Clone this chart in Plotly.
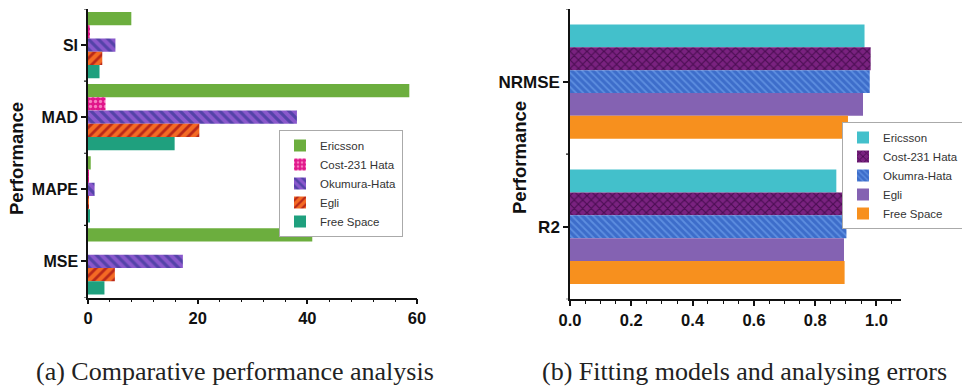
import plotly.graph_objects as go

# ---------------- data (a) ----------------
cats_a = ["MSE", "MAPE", "MAD", "SI"]
models_a = ["Ericsson", "Cost-231 Hata", "Okumura-Hata", "Egli", "Free Space"]
ericsson_a = [40.9, 0.5, 58.6, 7.9]
cost231_a = [0.0, 0.05, 3.2, 0.3]
okumura_a = [17.3, 1.2, 38.1, 5.0]
egli_a = [4.9, 0.1, 20.3, 2.6]
freespace_a = [3.0, 0.2, 15.8, 2.1]
ticks_a = [0, 20, 40, 60]

# ---------------- data (b) ----------------
cats_b = ["R2", "NRMSE"]
models_b = ["Ericsson", "Cost-231 Hata", "Okumra-Hata", "Egli", "Free Space"]
ericsson_b = [0.869, 0.961]
cost231_b = [0.909, 0.981]
okumura_b = [0.902, 0.978]
egli_b = [0.894, 0.956]
freespace_b = [0.896, 0.907]
ticks_b = [0.0, 0.2, 0.4, 0.6, 0.8, 1.0]

y_title = "Performance"
captions = ["(a) Comparative performance analysis", "(b) Fitting models and analysing errors"]

# ---------------- styles ----------------
styles_a = [
    dict(color="#6cae3e"),
    dict(color="#e0168a", pattern=dict(shape=".", bgcolor="#e0168a", fgcolor="#f77cc0", size=5, solidity=0.35, fillmode="replace")),
    dict(color="#8553c6", pattern=dict(shape="\\", bgcolor="#8a58cc", fgcolor="#5443a8", size=7, solidity=0.45, fillmode="replace")),
    dict(color="#f26522", pattern=dict(shape="/", bgcolor="#f46a24", fgcolor="#b8281a", size=7, solidity=0.4, fillmode="replace")),
    dict(color="#1fa07e"),
]
styles_b = [
    dict(color="#43c0cb"),
    dict(color="#6a1c6e", pattern=dict(shape="x", bgcolor="#7a2280", fgcolor="#4a0d52", size=6, solidity=0.35, fillmode="replace")),
    dict(color="#3e70cc", pattern=dict(shape="\\", bgcolor="#3d6dca", fgcolor="#5d8ee0", size=5, solidity=0.35, fillmode="replace")),
    dict(color="#8462b2"),
    dict(color="#f7901e"),
]

W, H = 962, 389
SANS = "Liberation Sans, Arial"
XTICK = dict(family=SANS, size=16.5, color="#111", weight="bold")
YTICK_A = dict(family=SANS, size=16, color="#111", weight="bold")
YTICK_B = dict(family=SANS, size=17, color="#111", weight="bold")
TITLEFONT = dict(family=SANS, size=18.5, color="#111", weight="bold")

fig = go.Figure()

def add_group(models, series, cats, styles, xa, ya, legend, width_each):
    n = len(models)
    total = n * width_each
    for i, (name, vals, st) in enumerate(zip(models, series, styles)):
        fig.add_trace(go.Bar(
            x=vals, y=cats, orientation="h", name=name,
            xaxis=xa, yaxis=ya, legend=legend,
            width=width_each, offset=total / 2 - (i + 1) * width_each,
            marker=dict(line=dict(width=0), **st),
        ))

add_group(models_a, [ericsson_a, cost231_a, okumura_a, egli_a, freespace_a],
          cats_a, styles_a, "x", "y", "legend", 0.184)
add_group(models_b, [ericsson_b, cost231_b, okumura_b, egli_b, freespace_b],
          cats_b, styles_b, "x2", "y2", "legend2", 0.1575)

axis_common = dict(showgrid=False, zeroline=False, showline=True, linecolor="#111",
                   linewidth=1.5, ticks="outside", tickcolor="#111", tickwidth=1.5,
                   automargin=False)
minor_x = dict(ticks="outside", ticklen=3, tickcolor="#111", tickwidth=1.2)

xa_dom = [88 / W, 417 / W]
xb_dom = [570 / W, 901 / W]
ya_dom = [(H - 297.5) / H, (H - 9) / H]
yb_dom = [(H - 299.3) / H, (H - 9) / H]

fig.update_layout(
    template="none",
    width=W, height=H, margin=dict(l=0, r=0, t=0, b=0, autoexpand=False),
    paper_bgcolor="white", plot_bgcolor="white",
    barmode="overlay", showlegend=True,
    xaxis=dict(domain=xa_dom, anchor="y", range=[0, 60], tickvals=ticks_a, ticklen=5,
               tickfont=XTICK, minor=dict(dtick=4, **minor_x), **axis_common),
    yaxis=dict(domain=ya_dom, anchor="x", type="category", categoryorder="array",
               categoryarray=cats_a, range=[-0.5, len(cats_a) - 0.5], ticklen=5,
               tickfont=YTICK_A, **axis_common),
    xaxis2=dict(domain=xb_dom, anchor="y2", range=[0, 1.08], tickvals=ticks_b, tickformat=".1f", ticklen=5,
                tickfont=XTICK, minor=dict(dtick=0.05, **minor_x), **axis_common),
    yaxis2=dict(domain=yb_dom, anchor="x2", type="category", categoryorder="array",
                categoryarray=cats_b, range=[-0.5, len(cats_b) - 0.5], ticklen=5,
                tickfont=YTICK_B, **axis_common),
    legend=dict(x=279 / W, y=1 - 130 / H, xanchor="left", yanchor="top",
                bgcolor="white", bordercolor="#aaa", borderwidth=1,
                font=dict(family=SANS, size=11.5, color="#333"),
                tracegroupgap=0),
    legend2=dict(x=842 / W, y=1 - 122 / H, xanchor="left", yanchor="top",
                 bgcolor="white", bordercolor="#aaa", borderwidth=1,
                 font=dict(family=SANS, size=11.5, color="#333"),
                 tracegroupgap=0),
)

# category boundary ticks on the y axes
shapes = []
for yref, xref, n in [("y", "x domain", len(cats_a)), ("y2", "x2 domain", len(cats_b))]:
    for k in range(n + 1):
        shapes.append(dict(type="line", xref=xref, yref=yref, x0=-0.012, x1=0,
                           y0=k - 0.5, y1=k - 0.5, line=dict(color="#111", width=1.2)))
fig.update_layout(shapes=shapes)

# y-axis titles (placed like the original, partly inside the label column)
for tx, ty in [(17, 159), (519, 158)]:
    fig.add_annotation(text=y_title, x=tx / W, y=1 - ty / H, xref="paper", yref="paper",
                       xanchor="center", yanchor="middle", textangle=-90, showarrow=False,
                       font=TITLEFONT)

# captions
for cap, cx in zip(captions, [235 / W, 744 / W]):
    fig.add_annotation(text=cap, x=cx, y=1 - 371 / H, xref="paper", yref="paper",
                       xanchor="center", yanchor="middle", showarrow=False,
                       font=dict(family="Liberation Serif, Times New Roman", size=26, color="#222"))

fig.write_html("out.html")
